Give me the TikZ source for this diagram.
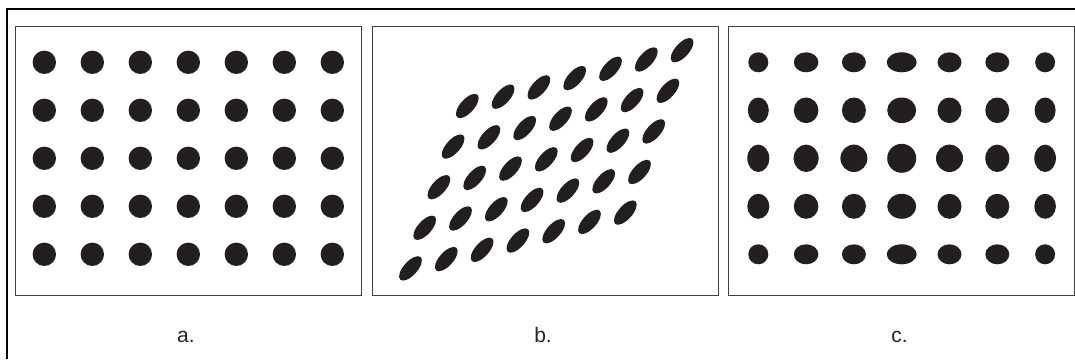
\documentclass[tikz,border=0pt]{standalone}
\usepackage{fontspec}
\setmainfont{Liberation Sans}
\usepackage{xcolor}
\usetikzlibrary{positioning}
\definecolor{ink}{RGB}{35,31,32}

\begin{document}
\begin{tikzpicture}[
    x=1pt, y=1pt,
    frame/.style={line width=2.3pt, black},
    panel/.style={draw=black!75, line width=0.9pt, minimum width=346pt,
                  minimum height=269pt, inner sep=0pt},
    caption/.style={font=\fontsize{21}{25}\selectfont, text=black!85,
                    inner sep=0pt, anchor=base},
    dot/.style={fill=ink},
]
\useasboundingbox (0,0) rectangle (1075,-359);

% Outer frame (top and left only)
\coordinate (corner) at (7,-9);
\coordinate (topend) at (1075,-9);
\coordinate (leftend) at (7,-359);
\draw[frame] (topend) -- (corner) -- (leftend);

% Three panels
\node[panel] (pa) at (188,-160.5) {};
\node[panel] (pb) at (545,-160.5) {};
\node[panel] (pc) at (901.5,-160.5) {};

% Captions
\node[caption, below=47pt of pa, anchor=base, xshift=-2pt] (la) {a.};
\node[caption, below=47pt of pb, anchor=base, xshift=-2pt] (lb) {b.};
\node[caption, below=47pt of pc, anchor=base, xshift=-2pt] (lc) {c.};

% a. regular grid of circles
\foreach \r in {0,...,4}
  \foreach \c in {0,...,6}
    \fill[dot] (44.3+48*\c, -62.3-48*\r) circle (11.7pt);

% b. sheared grid of slanted ellipses
\foreach \r in {0,...,4}
  \foreach \c in {0,...,6}
    \fill[dot, shift={(467.3+35.8*\c-14.2*\r, -106+9.3*\c-40.6*\r)}, rotate=48]
      (0,0) ellipse (15.2pt and 6.9pt);

% c. grid with stretched ellipses
\foreach \rx [count=\c from 0] in {10,12.3,12,15,12,12,10}
  \fill[dot] (758.3+47.8*\c, -62.3) ellipse (\rx pt and 10pt);
\foreach \rx [count=\c from 0] in {10.5,12.3,12,14.5,12,12,10.5}
  \fill[dot] (758.3+47.8*\c, -110.3) ellipse (\rx pt and 12.8pt);
\foreach \rx/\ry [count=\c from 0] in {11/13.7,12.5/13.7,13.5/13.7,14.5/14.5,13.5/13.7,12/13.7,10.8/13.7}
  \fill[dot] (758.3+47.8*\c, -158.3) ellipse (\rx pt and \ry pt);
\foreach \rx [count=\c from 0] in {11,12.3,12,14.5,12,12,10.8}
  \fill[dot] (758.3+47.8*\c, -206.3) ellipse (\rx pt and 12.5pt);
\foreach \rx [count=\c from 0] in {10,12.3,12,15,12,12,10}
  \fill[dot] (758.3+47.8*\c, -254.3) ellipse (\rx pt and 10pt);

\end{tikzpicture}
\end{document}
